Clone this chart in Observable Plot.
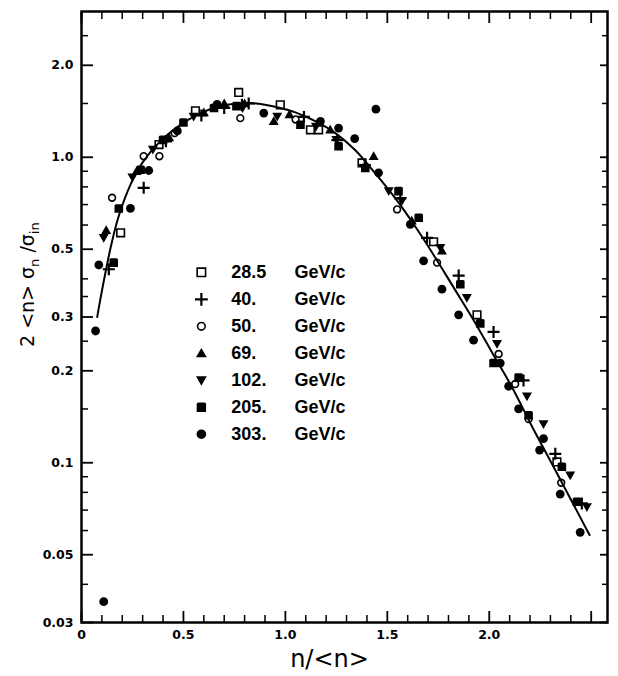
<!DOCTYPE html>
<html><head><meta charset="utf-8">
<script src="https://cdn.jsdelivr.net/npm/d3@7"></script>
<script src="https://cdn.jsdelivr.net/npm/@observablehq/plot@0.6"></script>
<style>
html,body{margin:0;padding:0;background:#fff}
#chart{width:618px;height:676px}
</style>
</head><body><div id="chart"></div>
<script>
// ---- data ----
const curveX = [0.077,0.105,0.144,0.182,0.241,0.299,0.376,0.473,0.569,0.666,0.762,0.859,0.955,1.052,1.149,1.245,1.342,1.439,1.535,1.632,1.728,1.825,1.922,2.018,2.115,2.211,2.308,2.404,2.492];
const curveY = [0.30,0.38,0.51,0.64,0.815,0.96,1.11,1.26,1.38,1.46,1.50,1.50,1.46,1.40,1.31,1.20,1.056,0.889,0.74,0.60,0.478,0.375,0.294,0.227,0.175,0.131,0.099,0.075,0.058];

const x285 = [0.192,0.38,0.559,0.771,0.975,1.123,1.163,1.376,1.727,1.94,2.332];
const y285 = [0.566,1.10,1.42,1.63,1.485,1.23,1.23,0.958,0.529,0.305,0.1006];

const x40 = [0.134,0.305,0.414,0.588,0.70,0.787,0.82,1.091,1.255,1.39,1.564,1.695,1.85,2.021,2.168,2.324,2.454];
const y40 = [0.43,0.794,1.128,1.37,1.45,1.485,1.50,1.355,1.138,0.943,0.733,0.545,0.41,0.268,0.186,0.107,0.0736];

const x50 = [0.150,0.305,0.382,0.457,0.779,1.05,1.548,1.744,2.046,2.127,2.193,2.353];
const y50 = [0.737,1.008,1.008,1.20,1.343,1.33,0.675,0.452,0.227,0.181,0.139,0.086];

const x69 = [0.121,0.27,0.43,0.60,0.70,0.80,0.943,1.02,1.22,1.433,1.62,1.768];
const y69 = [0.577,0.90,1.16,1.40,1.50,1.50,1.311,1.38,1.23,1.008,0.62,0.494];

const x102 = [0.109,0.25,0.35,0.55,0.79,0.96,1.15,1.25,1.507,1.572,1.76,1.89,2.038,2.185,2.266,2.397,2.479];
const y102 = [0.545,0.86,1.06,1.36,1.45,1.36,1.26,1.142,0.775,0.72,0.506,0.347,0.245,0.165,0.134,0.091,0.0717];

const x205 = [0.158,0.183,0.29,0.40,0.50,0.65,0.76,1.074,1.261,1.392,1.555,1.654,1.858,1.956,2.021,2.144,2.193,2.356,2.43];
const y205 = [0.452,0.68,0.91,1.14,1.30,1.45,1.47,1.278,1.086,0.923,0.775,0.634,0.384,0.286,0.212,0.19,0.143,0.097,0.0745];

const x303 = [0.069,0.085,0.109,0.24,0.33,0.47,0.665,0.894,1.172,1.261,1.34,1.444,1.457,1.613,1.678,1.768,1.85,1.923,2.054,2.095,2.144,2.247,2.266,2.348,2.446];
const y303 = [0.27,0.444,0.0351,0.68,0.905,1.22,1.49,1.395,1.311,1.246,1.151,1.437,0.889,0.603,0.458,0.37,0.305,0.252,0.212,0.178,0.150,0.11,0.12,0.079,0.0592];

const legendNumbers = ["28.5","40.","50.","69.","102.","205.","303."];
const legendUnit = "GeV/c";

const xTicksMinor = [0,0.1,0.2,0.3,0.4,0.6,0.7,0.8,0.9,1.1,1.2,1.3,1.4,1.6,1.7,1.8,1.9,2.1,2.2,2.3,2.4];
const xTicksMajor = [0,0.5,1.0,1.5,2.0,2.5];
const xTickLabelValues = [0,0.5,1.0,1.5,2.0];
const xTickLabels = ["0","0.5","1.0","1.5","2.0"];
const yTicksMajor = [0.03,0.05,0.1,0.2,0.3,0.5,1,2];
const yTickLabels = ["0.03","0.05","0.1","0.2","0.3","0.5","1.0","2.0"];
const yTicksMinor = [0.04,0.06,0.07,0.08,0.09,0.15,0.25,0.35,0.4,0.6,0.7,0.8,0.9,1.5,2.5];

// ---- symbols ----
const rad = size => Math.sqrt(size / Math.PI);
const sym = {
  square: {draw(c, s){const r = rad(s); c.rect(-r,-r,2*r,2*r);}},
  plus: {draw(c, s){const r = rad(s); c.moveTo(-r,0); c.lineTo(r,0); c.moveTo(0,-r); c.lineTo(0,r);}},
  circle: {draw(c, s){const r = rad(s); c.moveTo(r,0); c.arc(0,0,r,0,2*Math.PI);}},
  triUp: {draw(c, s){const r = rad(s); c.moveTo(0,-r); c.lineTo(r,r*0.75); c.lineTo(-r,r*0.75); c.closePath();}},
  triDown: {draw(c, s){const r = rad(s); c.moveTo(0,r); c.lineTo(r,-r*0.75); c.lineTo(-r,-r*0.75); c.closePath();}},
  block: {draw(c, s){const r = rad(s); const k = r*0.35; c.moveTo(-r+k,-r); c.lineTo(r-k,-r); c.quadraticCurveTo(r,-r,r,-r+k); c.lineTo(r,r); c.lineTo(-r,r); c.lineTo(-r,-r+k); c.quadraticCurveTo(-r,-r,-r+k,-r); c.closePath();}}
};

const series = [
  {xs: x285, ys: y285, symbol: sym.square, r: 3.8, fill: "none", stroke: "black", sw: 1.6},
  {xs: x40, ys: y40, symbol: sym.plus, r: 6, fill: "none", stroke: "black", sw: 2.2},
  {xs: x50, ys: y50, symbol: sym.circle, r: 3.4, fill: "none", stroke: "black", sw: 1.6},
  {xs: x69, ys: y69, symbol: sym.triUp, r: 5, fill: "black", stroke: "none", sw: 0},
  {xs: x102, ys: y102, symbol: sym.triDown, r: 5, fill: "black", stroke: "none", sw: 0},
  {xs: x205, ys: y205, symbol: sym.block, r: 4.3, fill: "black", stroke: "none", sw: 0},
  {xs: x303, ys: y303, symbol: sym.circle, r: 4.4, fill: "black", stroke: "none", sw: 0}
];

// legend layout (in data space of the frame)
const legendSymX = 0.588, legendNumX = 0.735, legendUnitX = 1.045;
const legendTop = 0.42, legendRatio = 0.816;
const legendY = legendNumbers.map((_, i) => legendTop * Math.pow(legendRatio, i));

const curve = curveX.map((x, i) => ({x, y: curveY[i]}));
const tickFont = {fontSize: 12.5, fontWeight: "bold", fontFamily: "DejaVu Sans"};

const marks = [
  Plot.line(curve, {x: "x", y: "y", stroke: "black", strokeWidth: 2, curve: "catmull-rom"}),
];
series.forEach((s, i) => {
  const pts = s.xs.map((x, j) => ({x, y: s.ys[j]}));
  marks.push(Plot.dot(pts, {x: "x", y: "y", symbol: s.symbol, r: s.r, fill: s.fill, stroke: s.stroke, strokeWidth: s.sw}));
  marks.push(Plot.dot([legendNumbers[i]], {x: () => legendSymX, y: () => legendY[i], symbol: s.symbol, r: s.r + 0.4, fill: s.fill, stroke: s.stroke, strokeWidth: s.sw}));
});
marks.push(
  Plot.text(legendNumbers, {x: () => legendNumX, y: (d, i) => legendY[i], text: d => d, textAnchor: "start", fontSize: 18, fontWeight: "bold", fontFamily: "Liberation Sans", fill: "black"}),
  Plot.text(legendNumbers, {x: () => legendUnitX, y: (d, i) => legendY[i], text: () => legendUnit, textAnchor: "start", fontSize: 18, fontWeight: "bold", fontFamily: "Liberation Sans", fill: "black"}),
  // ticks (inward)
  Plot.axisX(xTicksMinor, {anchor: "bottom", tickSize: -7, tickFormat: () => "", strokeWidth: 1.5, label: null}),
  Plot.axisX(xTicksMajor, {anchor: "bottom", tickSize: -11, tickFormat: () => "", strokeWidth: 1.8, label: null}),
  Plot.axisX(xTicksMinor, {anchor: "top", tickSize: -7, tickFormat: () => "", strokeWidth: 1.5, label: null}),
  Plot.axisX(xTicksMajor, {anchor: "top", tickSize: -11, tickFormat: () => "", strokeWidth: 1.8, label: null}),
  Plot.axisX(xTickLabelValues, {anchor: "bottom", tickSize: 0, tickPadding: 8, tickFormat: d => xTickLabels[xTickLabelValues.indexOf(d)], label: null, ...tickFont}),
  Plot.axisY(yTicksMinor, {anchor: "left", tickSize: -7, tickFormat: () => "", strokeWidth: 1.5, label: null}),
  Plot.axisY(yTicksMajor, {anchor: "left", tickSize: -12, tickFormat: () => "", strokeWidth: 1.8, label: null}),
  Plot.axisY(yTicksMinor, {anchor: "right", tickSize: -6, tickFormat: () => "", strokeWidth: 1.5, label: null}),
  Plot.axisY(yTicksMajor, {anchor: "right", tickSize: -8, tickFormat: () => "", strokeWidth: 1.8, label: null}),
  Plot.axisY(yTicksMajor, {anchor: "left", tickSize: 0, tickPadding: 8, tickFormat: d => yTickLabels[yTicksMajor.indexOf(d)], label: null, ...tickFont}),
  Plot.frame({stroke: "black", strokeWidth: 2.5}),
  Plot.text(["n/<n>"], {frameAnchor: "bottom", dx: -15, dy: 37, text: d => d, fontSize: 24, fontFamily: "DejaVu Sans", fill: "black", lineAnchor: "middle"}),
  Plot.text(["YLABEL"], {frameAnchor: "left", dx: -54, dy: 30, rotate: -90, text: d => d, fontSize: 19, fontFamily: "DejaVu Sans", fill: "black"})
);

const chart = Plot.plot({
  width: 618, height: 676,
  marginLeft: 81, marginRight: 11, marginTop: 11, marginBottom: 54,
  x: {domain: [0, 2.58]},
  y: {type: "log", domain: [0.03, 3]},
  style: {background: "white", color: "black"},
  marks
});

// axis title with subscripts
d3.select(chart).selectAll("text").filter(function(){ return this.textContent === "YLABEL"; }).each(function(){
  const t = d3.select(this);
  t.text(null);
  t.append("tspan").text("2 <n> σ");
  t.append("tspan").attr("font-size", 13).attr("dy", 5).text("n");
  t.append("tspan").attr("dy", -5).text(" /σ");
  t.append("tspan").attr("font-size", 13).attr("dy", 5).text("in");
});

document.getElementById("chart").appendChild(chart);
</script></body></html>
